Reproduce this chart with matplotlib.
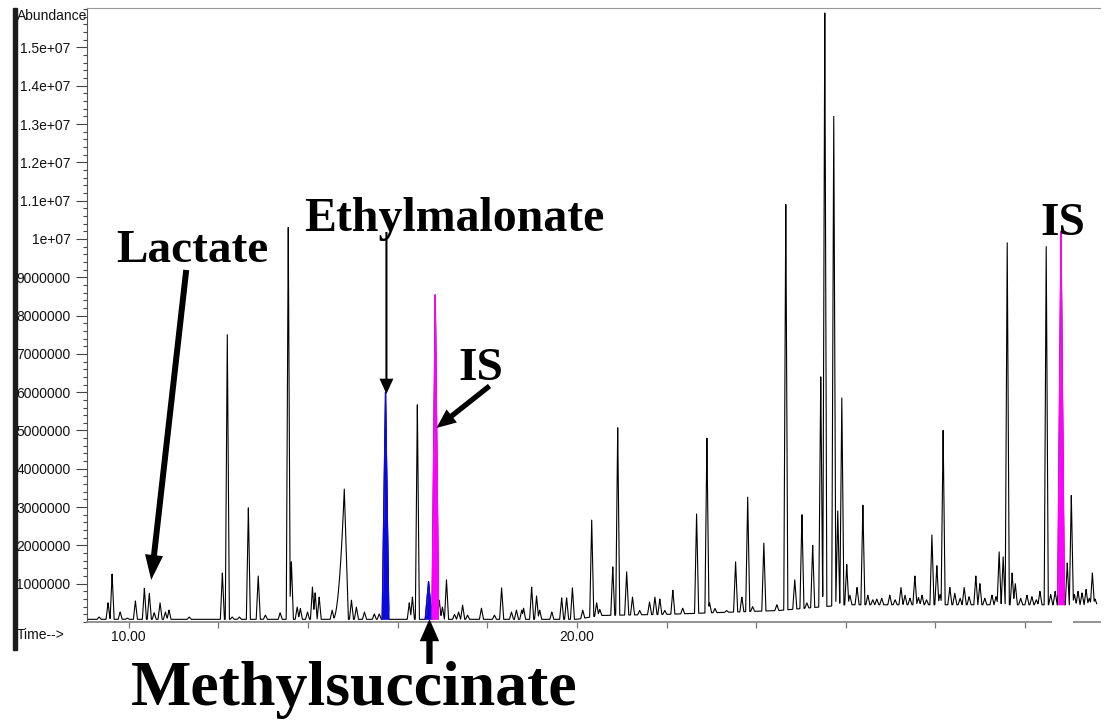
import numpy as np
import matplotlib
matplotlib.use("Agg")
import matplotlib.pyplot as plt
from matplotlib.patches import Rectangle

# ---- chromatogram peak table (retention time in min, apex abundance in millions) ----
peak_rt = [
    9.34, 9.54, 9.63, 9.81, 9.97, 10.15, 10.35, 10.46, 10.57, 10.70, 10.82, 10.90,
    11.35, 12.09, 12.20, 12.31, 12.47, 12.67, 12.89, 13.05, 13.38, 13.56, 13.63,
    13.76, 13.83, 13.99, 14.10, 14.16, 14.25, 14.54, 14.81, 14.97, 15.08, 15.26,
    15.48, 15.59, 16.26, 16.33, 16.44, 16.93, 17.00, 17.09, 17.27, 17.36, 17.45,
    17.56, 17.87, 18.16, 18.32, 18.54, 18.65, 18.77, 18.81, 18.99, 19.10, 19.17,
    19.44, 19.66, 19.77, 19.90, 20.13, 20.33, 20.44, 20.51, 20.80, 20.91, 21.11,
    21.24, 21.40, 21.62, 21.74, 21.85, 21.96, 22.14, 22.36, 22.67, 22.90, 22.96,
    23.08, 23.34, 23.54, 23.68, 23.81, 23.92, 24.17, 24.46, 24.66, 24.86, 25.02,
    25.13, 25.26, 25.44, 25.53, 25.73, 25.82, 25.91, 26.02, 26.09, 26.25, 26.38,
    26.49, 26.60, 26.69, 26.80, 26.98, 27.10, 27.23, 27.32, 27.43, 27.54, 27.62,
    27.70, 27.80, 27.92, 28.03, 28.10, 28.17, 28.32, 28.43, 28.55, 28.64, 28.75,
    28.90, 28.99, 29.10, 29.26, 29.35, 29.42, 29.51, 29.60, 29.71, 29.78, 29.90,
    30.04, 30.15, 30.25, 30.33, 30.47, 30.57, 30.67, 30.94, 31.03, 31.10, 31.18,
    31.27, 31.36, 31.43, 31.50, 31.56,
]
peak_height = [
    0.13, 0.50, 1.25, 0.26, 0.10, 0.55, 0.88, 0.75, 0.24, 0.50, 0.26, 0.31,
    0.13, 1.28, 7.50, 0.13, 0.13, 2.98, 1.20, 0.18, 0.24, 10.30, 1.57,
    0.39, 0.35, 0.26, 0.91, 0.76, 0.65, 0.31, 3.47, 0.57, 0.39, 0.26,
    0.21, 0.21, 0.50, 0.65, 5.67, 0.57, 0.39, 1.10, 0.20, 0.26, 0.44,
    0.18, 0.36, 0.18, 0.89, 0.26, 0.31, 0.31, 0.36, 0.91, 0.68, 0.31,
    0.26, 0.63, 0.63, 0.89, 0.31, 2.66, 0.50, 0.33, 1.44, 5.07, 1.31,
    0.65, 0.30, 0.52, 0.65, 0.60, 0.30, 0.83, 0.36, 2.82, 4.80, 0.50,
    0.35, 0.30, 1.57, 0.65, 3.26, 0.40, 2.06, 0.45, 10.90, 1.10, 2.80,
    0.50, 2.00, 6.40, 15.90, 13.20, 2.90, 5.85, 1.50, 0.70, 0.90, 3.05,
    0.70, 0.58, 0.60, 0.62, 0.70, 0.58, 0.90, 0.70, 0.62, 1.20, 0.64,
    0.70, 0.58, 2.27, 1.47, 0.72, 5.00, 0.90, 0.75, 0.62, 0.90, 0.66,
    1.20, 1.00, 0.62, 0.70, 0.66, 1.83, 1.70, 9.90, 1.28, 1.00, 0.62,
    0.70, 0.66, 0.58, 0.80, 9.80, 0.72, 0.80, 1.54, 3.30, 0.72, 0.80,
    0.76, 0.85, 0.62, 1.28, 0.60,
]

# peak with a long leading edge (start of rise, apex)
tailing_rt = [14.81]
tailing_start = [14.55]

# baseline drift
baseline_rt = [9.10, 20.00, 20.50, 22.00, 24.50, 26.00, 31.60]
baseline_level = [0.07, 0.07, 0.17, 0.20, 0.30, 0.45, 0.45]

# identified compounds
compound_rt = [15.73, 16.69, 16.84, 30.80]
compound_height = [6.00, 1.05, 8.54, 10.20]
compound_colors = ["#0a0ae0", "#0a0ae0", "#ff00ff", "#ff00ff"]

ytick_values = list(range(1, 16))
ytick_labels = ["1000000", "2000000", "3000000", "4000000", "5000000", "6000000",
                "7000000", "8000000", "9000000", "1e+07", "1.1e+07", "1.2e+07",
                "1.3e+07", "1.4e+07", "1.5e+07"]
xtick_values = [10, 12, 14, 16, 18, 20, 22, 24, 26, 28, 30]
xtick_labels = ["10.00", "", "", "", "", "20.00", "", "", "", "", ""]

HALF_WIDTH = 0.045
COMPOUND_HALF_WIDTH = 0.075
SCALE = 1e6

# time axis sampled finely, always including every apex
t = np.union1d(np.arange(9.10, 31.60, 0.003), np.array(peak_rt + compound_rt))
base = np.interp(t, baseline_rt, baseline_level)


def peak_profile(rt, height, wl, wr, lead_power=1.0):
    d = t - rt
    left = np.clip(1 + d / wl, 0, 1) ** lead_power
    right = np.clip(1 - d / wr, 0, 1)
    shape = np.where(d < 0, left, right)
    return base + np.maximum(height - base, 0) * shape, shape


signal = base.copy()
tail_lookup = dict(zip(tailing_rt, tailing_start))
for rt, h in zip(peak_rt, peak_height):
    if rt in tail_lookup:
        y, _ = peak_profile(rt, h, rt - tail_lookup[rt], 0.09, lead_power=2.2)
    else:
        y, _ = peak_profile(rt, h, HALF_WIDTH, HALF_WIDTH)
    signal = np.maximum(signal, y)

compound_traces = []
for rt, h in zip(compound_rt, compound_height):
    y, shape = peak_profile(rt, h, COMPOUND_HALF_WIDTH, COMPOUND_HALF_WIDTH)
    signal = np.maximum(signal, y)
    compound_traces.append((y, shape > 0))

fig = plt.figure(figsize=(11.07, 7.25), dpi=100)
W, H = 1107, 725
ax = fig.add_axes([87 / W, (H - 622) / H, (1100 - 87) / W, (622 - 8) / H])

ax.plot(t, signal * SCALE, color="black", lw=0.8, zorder=3)
for (y, m), c in zip(compound_traces, compound_colors):
    ax.fill_between(t[m], base[m] * SCALE, y[m] * SCALE, color=c, lw=0, zorder=4)
    ax.plot(t[m], y[m] * SCALE, color=c, lw=0.9, zorder=4)

ax.set_xlim(9.07, 31.67)
ax.set_ylim(0, 16.03e6)

ax.set_yticks([v * SCALE for v in ytick_values])
ax.set_yticklabels(ytick_labels)
ax.set_yticks(np.arange(0, 16.01, 0.2) * SCALE, minor=True)
ax.set_xticks(xtick_values)
ax.set_xticklabels(xtick_labels)

tick_font = {"family": "Liberation Sans", "size": 10.0}
for lab in ax.get_yticklabels() + ax.get_xticklabels():
    lab.set_fontfamily("Liberation Sans")
    lab.set_fontsize(10.0)
ax.tick_params(axis="y", which="major", length=7.9, width=0.8, color="#444",
               pad=4.0, labelcolor="#111")
ax.tick_params(axis="y", which="minor", length=2.9, width=0.8, color="#444")
ax.tick_params(axis="x", which="major", length=4.3, width=0.9, color="#777",
               pad=1.5, labelcolor="#111")

ax.spines["right"].set_visible(False)
ax.spines["top"].set_color("#999999")
ax.spines["top"].set_linewidth(0.8)
ax.spines["left"].set_color("#555555")
ax.spines["left"].set_linewidth(0.8)
ax.spines["bottom"].set_color("#8a8a8a")
ax.spines["bottom"].set_linewidth(1.3)

fig.text(17 / W, 1 - 16 / H, "Abundance", fontdict=tick_font, color="#111",
         ha="left", va="center")
fig.text(17 / W, 1 - 635 / H, "Time-->", fontdict=tick_font, color="#111",
         ha="left", va="center")
fig.add_artist(Rectangle((13 / W, 1 - 650 / H), 4 / W, (650 - 8) / H,
                         transform=fig.transFigure, color="#1c1c1c", zorder=10))

# blank patch over the axis below the late internal standard
ax.add_patch(Rectangle((30.60, -0.45e6), 0.47, 0.85e6, color="white", lw=0,
                       zorder=5, clip_on=False))

label_font = {"family": "Liberation Serif", "weight": "bold"}


def px(x, y):
    return 10 + (x - 129.5) / 44.78, (622 - y) / 38.3 * SCALE


ax.text(*px(117, 262), "Lactate", fontdict=label_font, fontsize=34,
        ha="left", va="baseline", zorder=6)
ax.text(*px(305, 231), "Ethylmalonate", fontdict=label_font, fontsize=34.5,
        ha="left", va="baseline", zorder=6)
ax.text(*px(459, 380), "IS", fontdict=label_font, fontsize=34,
        ha="left", va="baseline", zorder=6)
ax.text(*px(1040, 235), "IS", fontdict=label_font, fontsize=34,
        ha="left", va="baseline", zorder=6)
ax.text(*px(132, 705), "Methylsuccinate", fontdict=label_font, fontsize=46,
        ha="left", va="baseline", zorder=6, clip_on=False)


def arrow(tail, tip, tail_w, head_w, head_l):
    ax.annotate("", xy=px(*tip), xytext=px(*tail), annotation_clip=False,
                arrowprops=dict(arrowstyle=f"simple,head_length={head_l},"
                                f"head_width={head_w},tail_width={tail_w}",
                                mutation_scale=10, color="black", lw=0,
                                shrinkA=0, shrinkB=0), zorder=7)


arrow((187, 270), (152, 580), 0.43, 1.3, 1.8)
arrow((387, 232), (387, 394), 0.15, 1.0, 1.1)
arrow((430, 664), (430, 619), 0.45, 1.4, 1.6)
arrow((490, 386), (437, 428), 0.38, 1.2, 1.4)

fig.savefig("out.png", dpi=100)
